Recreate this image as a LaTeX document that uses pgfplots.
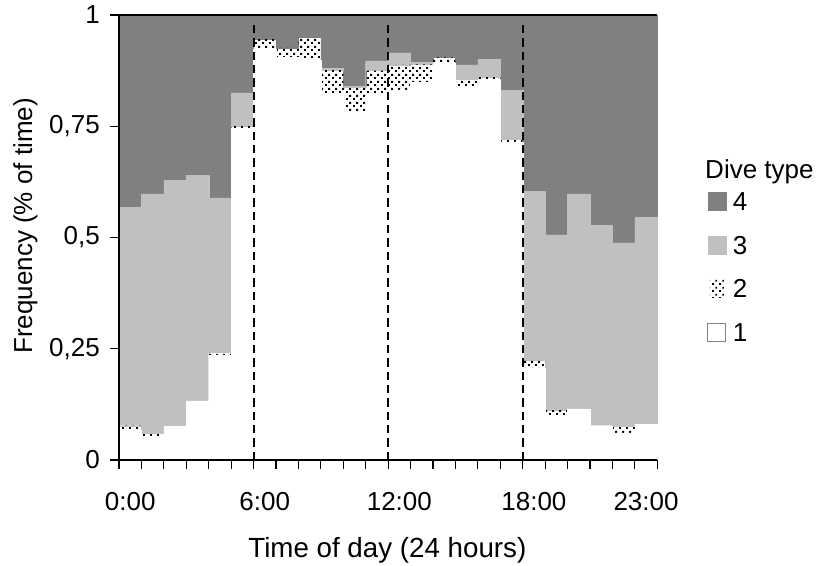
\documentclass[border=0pt]{standalone}
\usepackage{fontspec}
\setmainfont{Liberation Sans}
\usepackage{pgfplots}
\usepackage{pgfplotstable}
\pgfplotsset{compat=1.18}
\usetikzlibrary{patterns}
\definecolor{dk}{HTML}{808080}
\definecolor{lt}{HTML}{C0C0C0}
\pgfdeclarepatternformonly{mydots}{\pgfpointorigin}{\pgfpoint{5.4pt}{5.4pt}}{\pgfpoint{5.4pt}{5.4pt}}{%
  \pgfpathrectangle{\pgfpoint{0pt}{0pt}}{\pgfpoint{1.5pt}{1.5pt}}%
  \pgfpathrectangle{\pgfpoint{2.7pt}{2.7pt}}{\pgfpoint{1.5pt}{1.5pt}}%
  \pgfusepath{fill}}

\pgfplotstableread{
h t1 t2 t3 t4
0 0.067 0.010 0.490 0.433
1 0.053 0.007 0.538 0.402
2 0.075 0.000 0.554 0.371
3 0.133 0.000 0.507 0.360
4 0.236 0.006 0.347 0.411
5 0.746 0.005 0.074 0.175
6 0.923 0.023 0.000 0.054
7 0.905 0.021 0.000 0.074
8 0.899 0.050 0.000 0.051
9 0.822 0.054 0.004 0.120
10 0.784 0.053 0.003 0.160
11 0.822 0.053 0.022 0.103
12 0.832 0.056 0.027 0.085
13 0.849 0.040 0.004 0.107
14 0.892 0.013 0.000 0.095
15 0.837 0.019 0.032 0.112
16 0.856 0.005 0.040 0.099
17 0.715 0.005 0.110 0.170
18 0.206 0.019 0.378 0.397
19 0.100 0.012 0.394 0.494
20 0.115 0.000 0.483 0.402
21 0.077 0.000 0.451 0.472
22 0.061 0.014 0.413 0.512
23 0.080 0.000 0.465 0.455
}\datatable

\begin{document}
\fontsize{19.5}{23.4}\selectfont
\begin{tikzpicture}
\begin{axis}[
  clip=false,
  at={(0,0)}, anchor=south west,
  scale only axis, width=403.7pt, height=333.75pt,
  xmin=-0.5, xmax=23.5, ymin=0, ymax=1,
  enlargelimits=false,
  ybar stacked, bar width=1,
  axis x line*=bottom, axis y line*=left,
  axis line style={-, line width=0.9pt, black},
  axis on top,
  tick align=outside,
  major tick length=6.4pt,
  every tick/.style={black, line width=0.9pt},
  xtick={-0.5,0.5,...,23.5},
  xticklabels={},
  extra x ticks={0,6,12,18,23},
  extra x tick labels={0:00,6:00,12:00,18:00,23:00},
  extra x tick style={tick style={draw=none},
    xticklabel style={anchor=base, yshift=-31.1pt, inner sep=0pt}},
  ytick={0,0.25,0.5,0.75,1},
  yticklabels={0,{0,25},{0,5},{0,75},1},
  yticklabel style={anchor=east, inner sep=0pt, xshift=-7.85pt},
  xlabel={Time of day (24 hours)},
  xlabel style={at={(axis description cs:0.4985,-0.2202)}, anchor=base, inner sep=0pt,
    font=\fontsize{20.8}{25}\selectfont},
  ylabel={Frequency (\% of time)},
  ylabel style={at={(axis description cs:-0.1616,0.526)}, anchor=base, inner sep=0pt},
  reverse legend,
  legend cell align=left,
  legend style={at={(axis description cs:1.0923,0.6022)}, anchor=north west,
    draw=none, fill=none, inner sep=0pt, row sep=18.6pt, column sep=5pt,
    nodes={inner sep=0pt, text height=14pt, text depth=0pt}},
]
\addplot[fill=white, draw=white, line width=0.3pt,
  legend image code/.code={\draw[dk, line width=0.8pt, fill=white] (0pt,-6.75pt) rectangle (13.5pt,6.75pt);}]
  table[x=h, y=t1] {\datatable};
\addlegendentry{1}
\addplot[pattern=mydots, pattern color=black, draw=none,
  legend image code/.code={\fill[pattern=mydots, pattern color=black] (1.5pt,-6.75pt) rectangle (12pt,6.75pt);}]
  table[x=h, y=t2] {\datatable};
\addlegendentry{2}
\addplot[fill=lt, draw=lt, line width=0.3pt,
  legend image code/.code={\fill[lt] (0pt,-6.75pt) rectangle (13.5pt,6.75pt);}]
  table[x=h, y=t3] {\datatable};
\addlegendentry{3}
\addplot[fill=dk, draw=dk, line width=0.3pt,
  legend image code/.code={\fill[dk] (0pt,-6.75pt) rectangle (13.5pt,6.75pt);}]
  table[x=h, y=t4] {\datatable};
\addlegendentry{4}
\coordinate (tl) at (rel axis cs:0,1);
\coordinate (tr) at (rel axis cs:1,1);
\coordinate (a0) at (axis cs:5.5,0);
\coordinate (a1) at (axis cs:5.5,0.983);
\coordinate (b0) at (axis cs:11.5,0);
\coordinate (b1) at (axis cs:11.5,0.983);
\coordinate (c0) at (axis cs:17.5,0);
\coordinate (c1) at (axis cs:17.5,0.983);
\coordinate (ttl) at (axis description cs:1.0886,0.6315);
\end{axis}
\draw[black, line width=0.9pt] (tl) -- (tr);
\draw[black, line width=1.6pt, dash pattern=on 6.2pt off 3.8pt] (a0) -- (a1);
\draw[black, line width=1.6pt, dash pattern=on 6.2pt off 3.8pt] (b0) -- (b1);
\draw[black, line width=1.6pt, dash pattern=on 6.2pt off 3.8pt] (c0) -- (c1);
\node[anchor=base west, inner sep=0pt] at (ttl) {Dive type};
\pgfresetboundingbox
\path (-89.25pt,-78.75pt) rectangle (522.75pt,345pt);
\end{tikzpicture}
\end{document}
